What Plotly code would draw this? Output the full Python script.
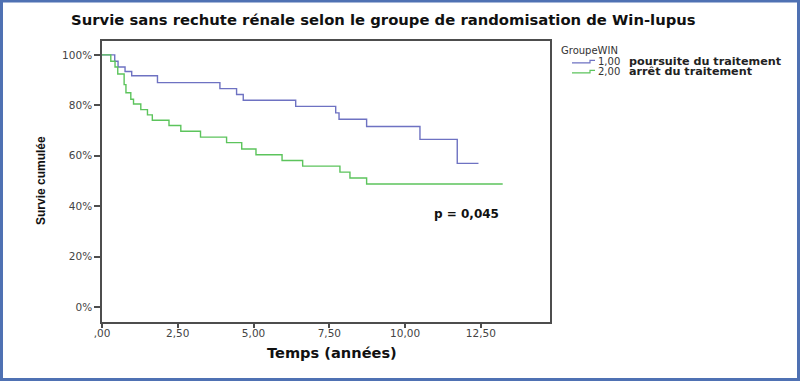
import plotly.graph_objects as go

# ---- data ----
groups = ["1,00", "2,00"]
group_labels = ["poursuite du traitement", "arrêt du traitement"]

t_poursuite = [0, 0.42, 0.53, 0.76, 0.98, 1.83, 3.89, 4.44, 4.66, 6.39, 7.71, 7.82, 8.73, 10.49, 11.72, 12.42]
s_poursuite = [100, 97.5, 95.2, 93.4, 91.7, 89.0, 86.6, 84.3, 82.0, 79.6, 77.0, 74.5, 71.6, 66.5, 57.0, 57.0]

t_arret = [0, 0.29, 0.43, 0.52, 0.73, 0.79, 0.95, 1.04, 1.28, 1.50, 1.66, 2.21, 2.60, 3.25, 4.11, 4.61, 5.08, 5.94, 6.62, 7.85, 8.18, 8.73, 13.22]
s_arret = [100, 97.5, 95.2, 92.4, 88.2, 85.0, 82.4, 80.5, 78.3, 76.2, 74.1, 72.0, 69.7, 67.4, 65.2, 62.7, 60.4, 58.1, 55.9, 53.5, 51.2, 48.8, 48.8]

x_tickvals = [0, 2.5, 5, 7.5, 10, 12.5]
x_ticktext = [",00", "2,50", "5,00", "7,50", "10,00", "12,50"]
y_tickvals = [0, 20, 40, 60, 80, 100]
y_ticktext = ["0%", "20%", "40%", "60%", "80%", "100%"]

colors = ["#6e72c2", "#5cc45c"]

W, H = 800, 381
L, R, T, B = 102, 550, 41, 322


def px(x):
    return (x - L) / (R - L)


def py(y):
    return (B - y) / (B - T)


fig = go.Figure()
for t, s, c, g, lab in [(t_poursuite, s_poursuite, colors[0], groups[0], group_labels[0]),
                        (t_arret, s_arret, colors[1], groups[1], group_labels[1])]:
    fig.add_trace(go.Scatter(x=t, y=s, mode="lines", line=dict(color=c, width=1.4, shape="hv"),
                             name=g + " " + lab, showlegend=False, hoverinfo="skip"))

axis_common = dict(showline=True, mirror=True, linecolor="#4d4d4d", linewidth=1.5,
                   ticks="outside", ticklen=4, tickcolor="#4d4d4d", tickwidth=1.5,
                   showgrid=False, zeroline=False,
                   tickfont=dict(family="DejaVu Sans", size=10.5, color="#444444"))

fig.update_layout(
    width=W, height=H, autosize=False,
    margin=dict(l=L, r=W - R, t=T, b=H - B, pad=0),
    paper_bgcolor="white", plot_bgcolor="white",
    xaxis=dict(range=[0, 14.78], tickvals=x_tickvals, ticktext=x_ticktext, **axis_common),
    yaxis=dict(range=[-5.9, 105.5], tickvals=y_tickvals, ticktext=y_ticktext, **axis_common),
    showlegend=False,
)
fig.update_yaxes(ticklen=6)
fig.update_xaxes(ticklabelstandoff=-3)

ann = []
# title
ann.append(dict(x=px(383), y=py(19), xref="paper", yref="paper", showarrow=False,
                text="<b>Survie sans rechute rénale selon le groupe de randomisation de Win-lupus</b>",
                font=dict(family="DejaVu Sans", size=14.8, color="#111111"), xanchor="center", yanchor="middle"))
# axis titles
ann.append(dict(x=px(332), y=py(352), xref="paper", yref="paper", showarrow=False,
                text="<b>Temps (années)</b>", font=dict(family="DejaVu Sans", size=14.6, color="#111111"),
                xanchor="center", yanchor="middle"))
ann.append(dict(x=px(41), y=py(181), xref="paper", yref="paper", showarrow=False, textangle=-90,
                text="<b>Survie cumulée</b>",
                font=dict(family="Liberation Sans Narrow, Liberation Sans, Arial", size=12, color="#111111"),
                xanchor="center", yanchor="middle"))
# p value
ann.append(dict(x=px(432), y=py(214), xref="paper", yref="paper", showarrow=False,
                text="<b>p = 0,045</b>", font=dict(family="DejaVu Sans", size=12, color="#111111"),
                xanchor="left", yanchor="middle"))
# legend
ann.append(dict(x=px(559), y=py(50), xref="paper", yref="paper", showarrow=False,
                text="GroupeWIN", font=dict(family="DejaVu Sans", size=10, color="#333333"),
                xanchor="left", yanchor="middle"))
shapes = []
for i, (g, lab, c) in enumerate(zip(groups, group_labels, colors)):
    yy = 61.5 + i * 10
    ann.append(dict(x=px(596), y=py(yy), xref="paper", yref="paper", showarrow=False,
                    text=g, font=dict(family="DejaVu Sans", size=10, color="#333333"),
                    xanchor="left", yanchor="middle"))
    ann.append(dict(x=px(627), y=py(yy), xref="paper", yref="paper", showarrow=False,
                    text="<b>" + lab + "</b>", font=dict(family="DejaVu Sans", size=11.2, color="#222222"),
                    xanchor="left", yanchor="middle"))
    path = "M {} {} L {} {} L {} {} L {} {}".format(
        px(572), py(yy + 1.3), px(590), py(yy + 1.3), px(590), py(yy - 1.2), px(595), py(yy - 1.2))
    shapes.append(dict(type="path", path=path, xref="paper", yref="paper",
                       line=dict(color=c, width=1.2)))

# outer blue frame
shapes.append(dict(type="rect", xref="paper", yref="paper",
                   x0=px(1.5), x1=px(798.5), y0=py(379.5), y1=py(1),
                   line=dict(color="#4f71b3", width=3)))

fig.update_layout(annotations=ann, shapes=shapes)
fig.write_html("out.html", config={"displayModeBar": False},
               post_script="document.body.style.margin='0';document.body.style.overflow='hidden';")
